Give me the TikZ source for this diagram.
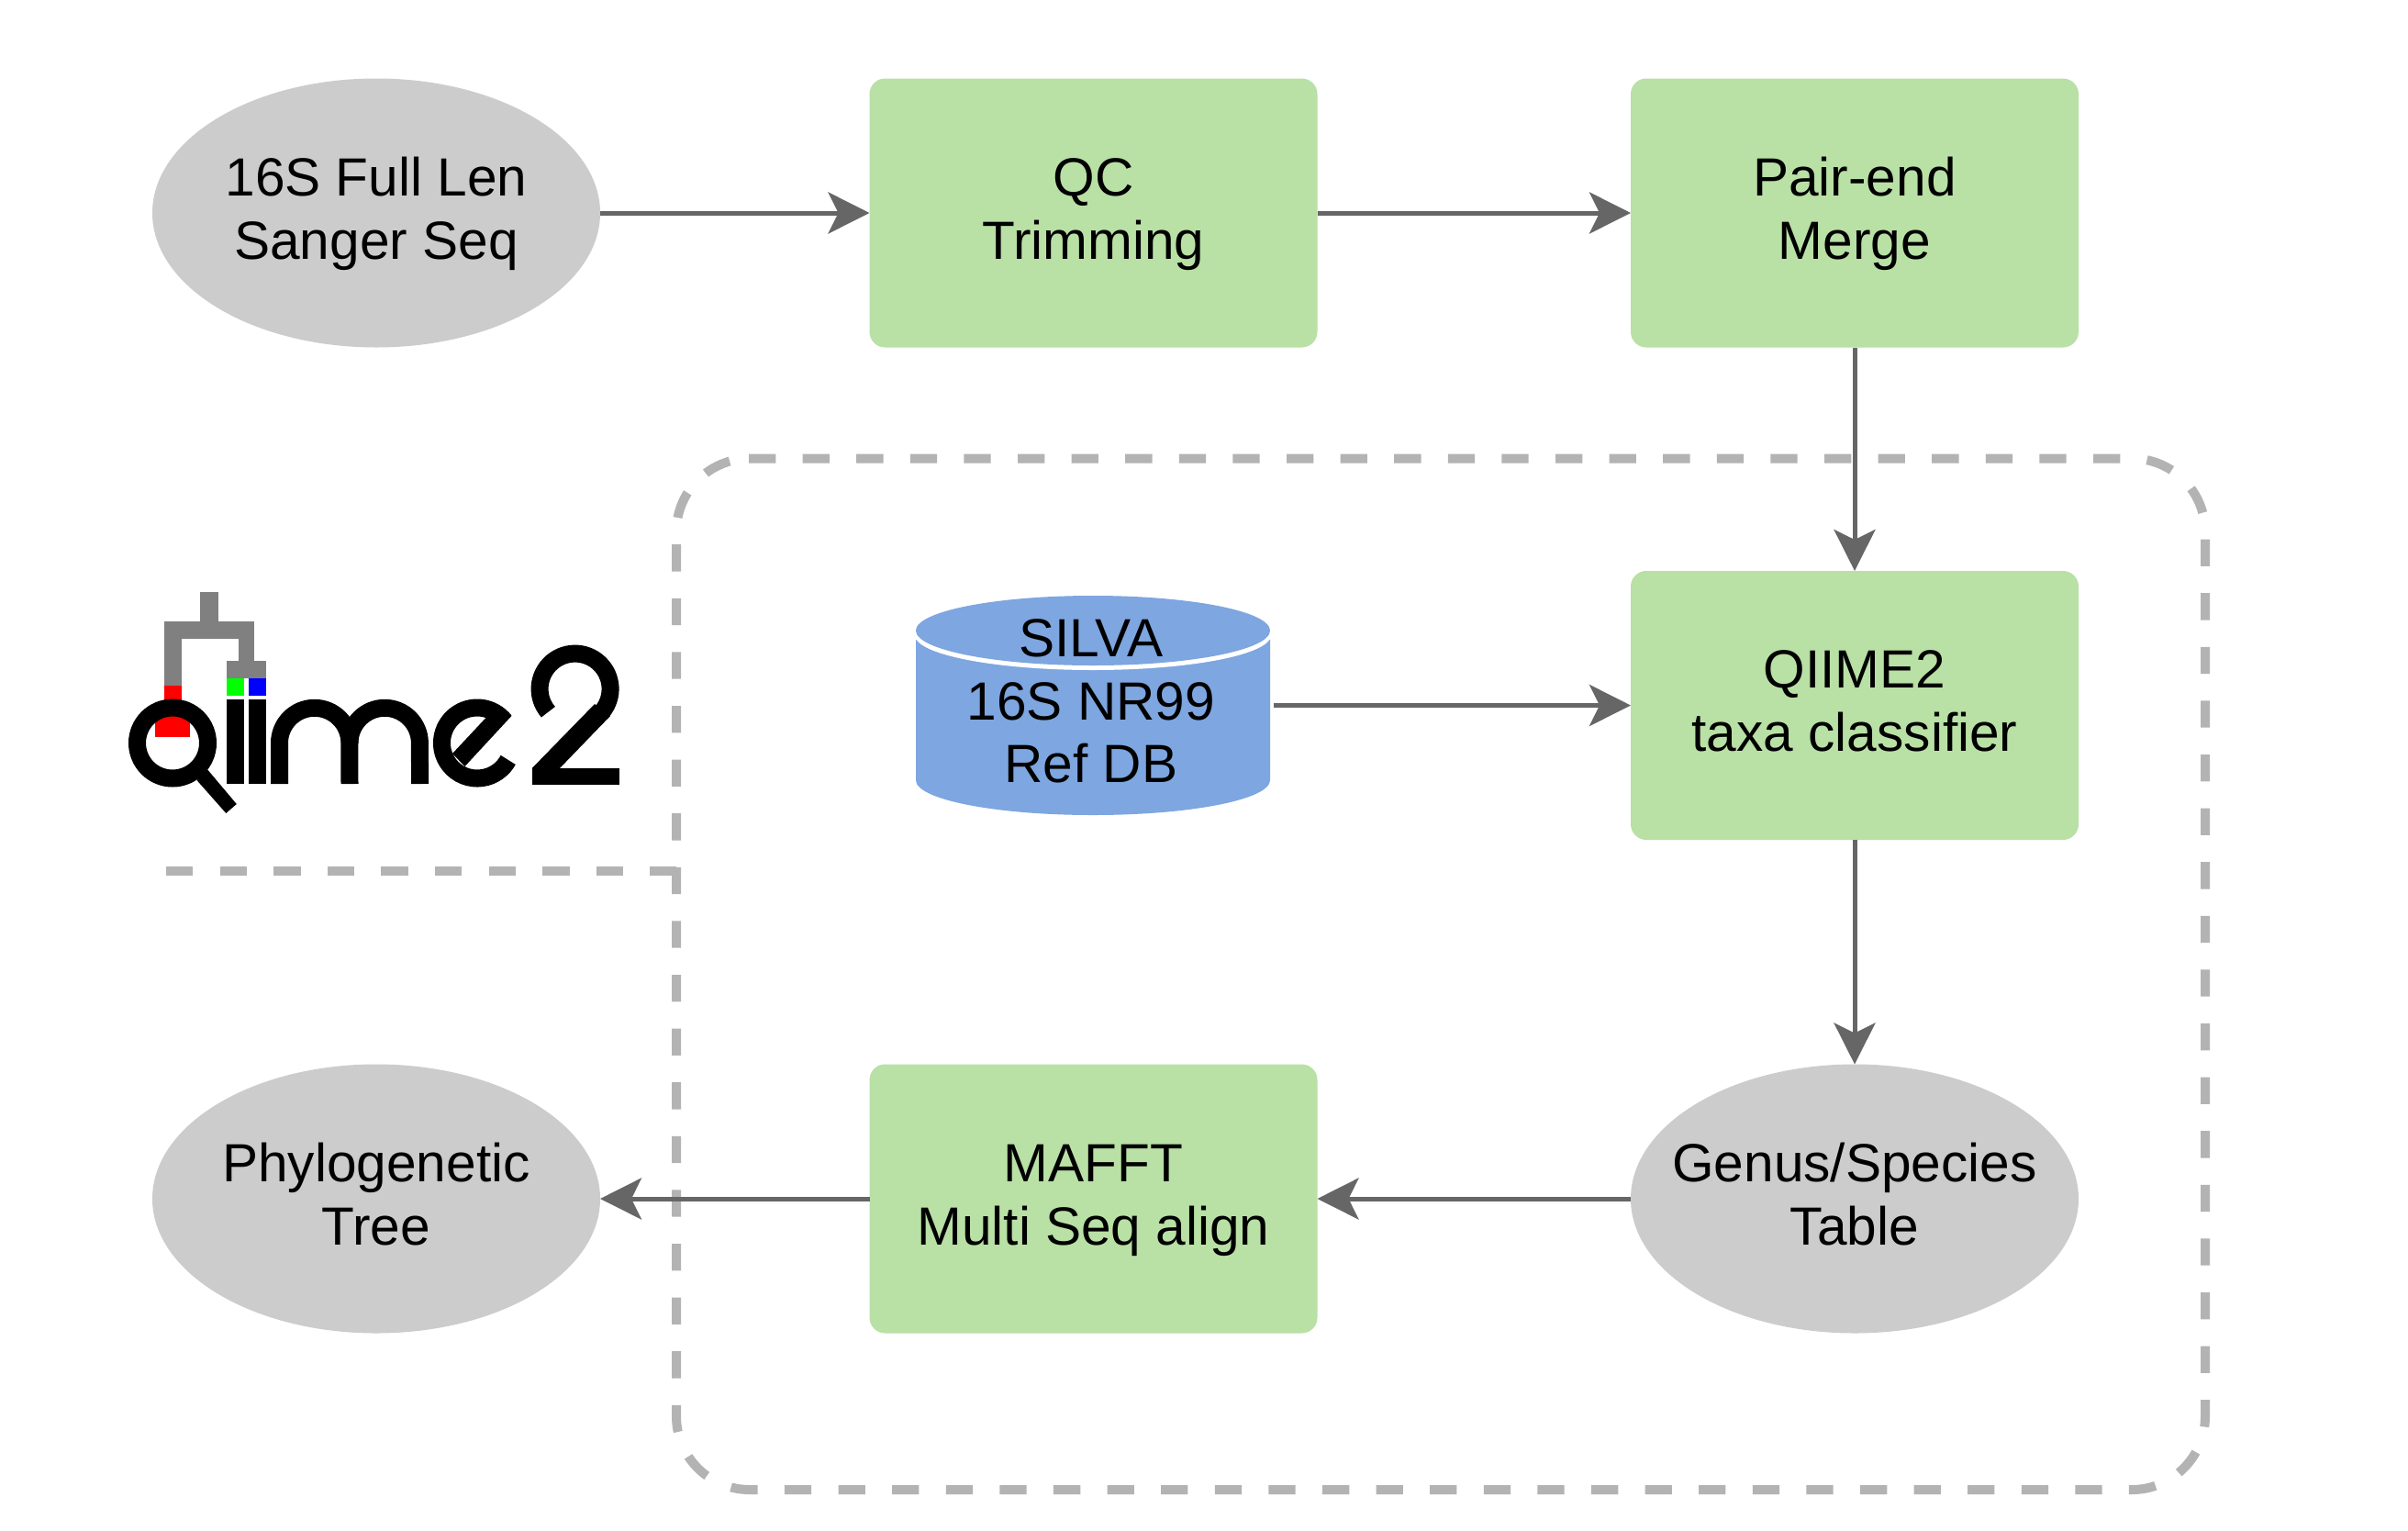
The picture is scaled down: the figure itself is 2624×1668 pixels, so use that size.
\documentclass[tikz,border=0pt]{standalone}
\usepackage{fontspec}
\setmainfont{Liberation Sans}
\usetikzlibrary{arrows.meta,shapes.geometric}
\definecolor{boxgreen}{HTML}{B9E0A5}
\definecolor{ovalgrey}{HTML}{CCCCCC}
\definecolor{dbblue}{HTML}{7EA6E0}
\definecolor{dashgrey}{HTML}{B3B3B3}
\definecolor{linkgrey}{HTML}{666666}
\definecolor{treegrey}{HTML}{808080}
\newcommand{\topstrut}{\rule{0pt}{50pt}}
\newcommand{\botstrut}{\rule[-18.6pt]{0pt}{18.6pt}}
\tikzset{
  x=1pt,y=1pt,
  label text/.style={font=\fontsize{58.6pt}{68.6pt}\selectfont,align=center,text=black,inner sep=0pt,outer sep=0pt},
  greenbox/.style={label text,rectangle,rounded corners=17pt,fill=boxgreen,minimum width=488pt,minimum height=293pt},
  greyoval/.style={label text,ellipse,fill=ovalgrey,minimum width=488pt,minimum height=293pt},
  dbtext/.style={label text,rectangle,minimum width=386pt,minimum height=239pt},
  link/.style={draw=linkgrey,line width=5pt,-{Stealth[length=45pt,width=45pt,inset=11pt]}},
  groupline/.style={draw=dashgrey,line width=10pt,dash pattern=on 29.3pt off 29.3pt},
  logostroke/.style={draw=black,line width=19pt,line cap=butt},
}
\begin{document}
\begin{tikzpicture}
\useasboundingbox (0,0) rectangle (2624,-1668);
\fill[white] (0,0) rectangle (2624,-1668);

% group outline
\draw[groupline,rounded corners=80pt] (816,-499.5) -- (2403,-499.5) -- (2403,-1623) -- (737,-1623) -- (737,-499.5) -- (816,-499.5);
\coordinate (sepstart) at (181,-949);
\coordinate (sepend) at (737,-949);
\draw[groupline] (sepstart) -- (sepend);

% logo
\fill[treegrey] (218.4,-645.3) rectangle (237.5,-680);
\fill[treegrey] (178.6,-677.3) rectangle (277.3,-696.3);
\fill[treegrey] (178.6,-690) rectangle (197.7,-746.7);
\fill[treegrey] (259.7,-690) rectangle (277.3,-725);
\fill[treegrey] (247,-720) rectangle (290,-739);
\fill[red] (178.6,-746.7) rectangle (197.7,-770);
\fill[green] (247,-739.3) rectangle (266.2,-758);
\fill[blue] (271.2,-739.3) rectangle (290,-758);
\fill[red] (168.6,-775) rectangle (206.9,-803);
\draw[logostroke] (188,-809.5) circle (38.5);
\fill[black] (226,-838.3) -- (214.5,-850) -- (246.3,-886) -- (257.8,-876) -- cycle;
\fill[black] (247,-761.7) rectangle (266.2,-854);
\fill[black] (271.2,-761.7) rectangle (290,-854);
\draw[logostroke] (304.5,-854) -- (304.5,-809.5) arc (180:0:38.2) -- (381,-854);
\draw[logostroke] (381,-809.5) arc (180:0:38.2) -- (457.6,-854);
\draw[logostroke] (550.3,-785.8) arc (38:331.4:38.5);
\fill[black] (557.4,-780) -- (506.5,-835) -- (493,-821) -- (529.5,-782) -- cycle;
\draw[logostroke] (597.4,-775.7) arc (220.7:-44:38.5);
\fill[black] (580,-838) -- (609,-838) -- (665,-780) -- (648,-767) -- (580,-836.7) -- cycle;
\fill[black] (580,-836.7) rectangle (674.5,-855.3);

% database shape
\fill[dbblue] (998,-697) -- (1384,-697) -- (1384,-850) arc (0:-180:193 and 38) -- cycle;
\fill[white] (1191,-692) ellipse (194 and 38);
\fill[dbblue] (1191,-687) ellipse (193 and 38);

% nodes
\node[greyoval] (seq) at (410,-232) {\topstrut 16S Full Len\\Sanger Seq\botstrut};
\node[greenbox] (qc) at (1191.5,-232) {\topstrut QC\\Trimming\botstrut};
\node[greenbox] (merge) at (2021,-232) {\topstrut Pair-end\\Merge\botstrut};
\node[dbtext] (silva) at (1189,-768.5) {\topstrut SILVA\\16S NR99\\Ref DB\botstrut};
\node[greenbox] (classifier) at (2021,-768.5) {\topstrut QIIME2\\taxa classifier\botstrut};
\node[greyoval] (table) at (2021,-1306) {\topstrut\makebox[200pt]{Genus/Species}\\Table\botstrut};
\node[greenbox] (mafft) at (1191.5,-1306) {\topstrut MAFFT\\Multi Seq align\botstrut};
\node[greyoval] (tree) at (410,-1306) {\topstrut Phylogenetic\\Tree\botstrut};

% connectors
\draw[link] (seq) -- (qc);
\draw[link] (qc) -- (merge);
\draw[link] (merge) -- (classifier);
\draw[link] ([xshift=6pt]silva.east) -- (classifier);
\draw[link] (classifier) -- (table);
\draw[link] (table) -- (mafft);
\draw[link] (mafft) -- (tree);
\end{tikzpicture}
\end{document}
